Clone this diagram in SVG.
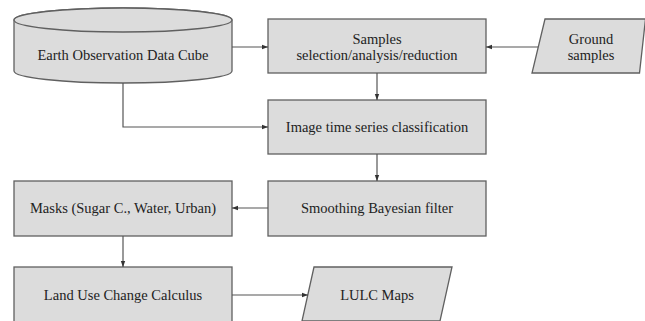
<svg xmlns="http://www.w3.org/2000/svg" width="645" height="321" viewBox="0 0 645 321">
  <defs>
    <marker id="arrow" viewBox="0 0 6 6" refX="6" refY="3" markerWidth="6" markerHeight="6" markerUnits="userSpaceOnUse" orient="auto">
      <path d="M0,0.8 L6,3 L0,5.2 Z" fill="#333"/>
    </marker>
  </defs>
  <style>
    .shape { fill: #dcdcdc; stroke: #606060; stroke-width: 1.3; }
    .label { font-family: "Liberation Serif", "Times New Roman", serif; font-size: 14.5px; fill: #222; text-anchor: middle; }
    .link { fill: none; stroke: #555; stroke-width: 1.2; }
  </style>
  <rect width="645" height="321" fill="#fff"/>

  <!-- data cube cylinder -->
  <g id="data-cube">
    <path class="shape" d="M14,20 L14,71 A109,12 0 0 0 232,71 L232,20 A109,12 0 0 0 14,20 Z"/>
    <ellipse class="shape" cx="123" cy="20" rx="109" ry="12"/>
    <text class="label" x="123" y="60">Earth Observation Data Cube</text>
  </g>

  <g id="samples">
    <rect class="shape" x="268" y="19" width="218" height="54"/>
    <text class="label" x="377" y="44">Samples</text>
    <text class="label" x="377" y="60">selection/analysis/reduction</text>
  </g>

  <g id="ground-samples">
    <polygon class="shape" points="545,19 645.5,19 639.5,73 532,73"/>
    <text class="label" x="591" y="44">Ground</text>
    <text class="label" x="591" y="60">samples</text>
  </g>

  <g id="classification">
    <rect class="shape" x="268" y="100" width="218" height="54"/>
    <text class="label" x="377" y="132">Image time series classification</text>
  </g>

  <g id="smoothing">
    <rect class="shape" x="268" y="181" width="218" height="55"/>
    <text class="label" x="377" y="213">Smoothing Bayesian filter</text>
  </g>

  <g id="masks">
    <rect class="shape" x="14" y="181" width="218" height="55"/>
    <text class="label" x="123" y="213">Masks (Sugar C., Water, Urban)</text>
  </g>

  <g id="land-use-change">
    <rect class="shape" x="14" y="267" width="218" height="60"/>
    <text class="label" x="123" y="300">Land Use Change Calculus</text>
  </g>

  <g id="lulc-maps">
    <polygon class="shape" points="314,267 452,267 440,321 302,321"/>
    <text class="label" x="377" y="300">LULC Maps</text>
  </g>

  <g id="connectors">
    <line class="link" x1="232" y1="47" x2="268" y2="47" marker-end="url(#arrow)"/>
    <line class="link" x1="538" y1="47" x2="486" y2="47" marker-end="url(#arrow)"/>
    <line class="link" x1="377" y1="73" x2="377" y2="100" marker-end="url(#arrow)"/>
    <polyline class="link" points="123,83 123,127 268,127" marker-end="url(#arrow)"/>
    <line class="link" x1="377" y1="154" x2="377" y2="181" marker-end="url(#arrow)"/>
    <line class="link" x1="268" y1="208" x2="232" y2="208" marker-end="url(#arrow)"/>
    <line class="link" x1="123" y1="236" x2="123" y2="267" marker-end="url(#arrow)"/>
    <line class="link" x1="232" y1="295" x2="308" y2="295" marker-end="url(#arrow)"/>
  </g>
</svg>
